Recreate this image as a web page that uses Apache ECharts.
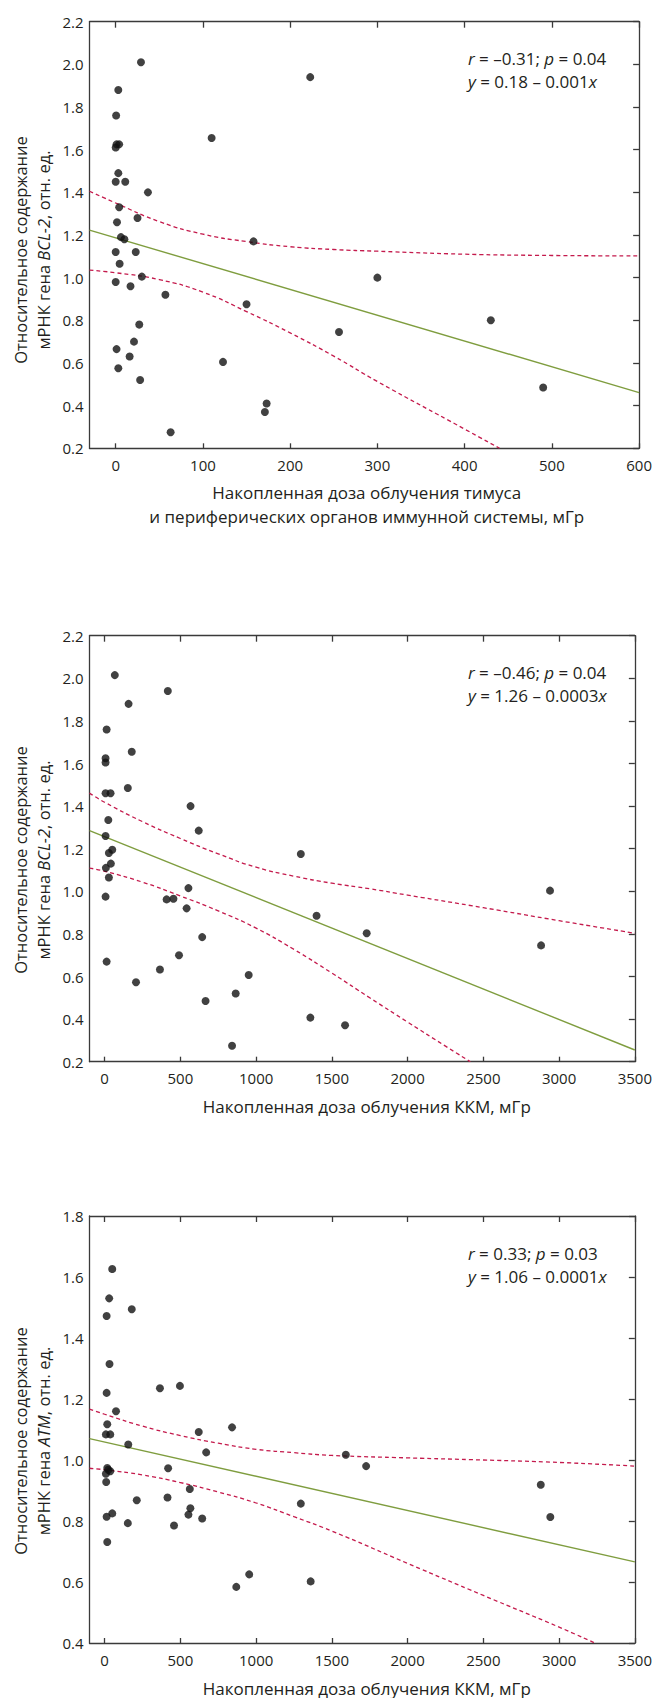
<!DOCTYPE html>
<html>
<head>
<meta charset="utf-8">
<script src="https://cdn.jsdelivr.net/npm/echarts@6/dist/echarts.min.js"></script>
<style>
html,body{margin:0;padding:0;background:#fff;}
#chart{width:655px;height:1698px;}
</style>
</head>
<body>
<div id="chart"></div>
<script>
// ---------- data ----------
// Chart 1: thymus + peripheral immune organs dose (mGy) vs BCL-2
var dose1 = [29, 223, 3, 0.5, 110, 1, 4, 0, 3, 0, 11, 37, 4, 25, 1.5, 6, 10, 158, 0, 23, 4.5, 30, 0, 17, 57, 150, 27, 256, 21, 1, 16, 3, 123, 28, 173, 171, 63, 300, 430, 490];
var bcl1  = [2.01, 1.94, 1.88, 1.76, 1.655, 1.625, 1.625, 1.61, 1.49, 1.45, 1.45, 1.40, 1.33, 1.28, 1.26, 1.19, 1.18, 1.17, 1.12, 1.12, 1.065, 1.005, 0.98, 0.96, 0.92, 0.875, 0.78, 0.745, 0.70, 0.665, 0.63, 0.575, 0.605, 0.52, 0.41, 0.37, 0.275, 1.0, 0.80, 0.485];
var fit1X = [-30, 600];
var fit1Y = [1.223, 0.461];
var up1X  = [-30, 0, 50, 100, 150, 200, 250, 300, 400, 500, 600];
var up1Y  = [1.405, 1.35, 1.263, 1.204, 1.169, 1.145, 1.132, 1.124, 1.110, 1.104, 1.102];
var lo1X  = [-30, 0, 50, 100, 150, 200, 250, 300, 400, 440];
var lo1Y  = [1.035, 1.023, 0.991, 0.932, 0.841, 0.741, 0.632, 0.513, 0.290, 0.2];

// Chart 2: red bone marrow (KKM) dose vs BCL-2
var dose2 = [67, 417, 158, 13, 179, 6, 6, 153, 6, 39, 567, 24, 621, 6, 1295, 28, 50, 41, 8, 28, 553, 6, 409, 454, 541, 1399, 644, 491, 13, 365, 951, 207, 865, 666, 1358, 1587, 841, 1730, 2881, 2940];
var bcl2  = [2.015, 1.94, 1.88, 1.76, 1.655, 1.625, 1.605, 1.485, 1.46, 1.46, 1.40, 1.335, 1.285, 1.26, 1.175, 1.18, 1.195, 1.13, 1.11, 1.065, 1.015, 0.975, 0.962, 0.965, 0.92, 0.885, 0.785, 0.70, 0.67, 0.633, 0.607, 0.573, 0.52, 0.485, 0.407, 0.371, 0.275, 0.803, 0.746, 1.003];
var fit2X = [-100, 3500];
var fit2Y = [1.285, 0.255];
var up2X  = [-100, 0, 250, 500, 750, 1000, 1250, 1500, 1750, 2000, 2500, 3000, 3500];
var up2Y  = [1.461, 1.418, 1.327, 1.248, 1.176, 1.113, 1.071, 1.038, 1.012, 0.982, 0.923, 0.862, 0.803];
var lo2X  = [-100, 0, 250, 500, 750, 1000, 1250, 1500, 1750, 2000, 2250, 2414];
var lo2Y  = [1.109, 1.094, 1.043, 0.978, 0.908, 0.827, 0.727, 0.616, 0.500, 0.386, 0.273, 0.2];

// Chart 3: red bone marrow (KKM) dose vs ATM
var dose3 = [50, 30, 13, 179, 32, 13, 365, 497, 75, 17, 8, 37, 156, 621, 841, 670, 1592, 17, 8, 37, 24, 10, 419, 562, 415, 212, 1295, 566, 553, 13, 50, 644, 153, 458, 17, 954, 869, 1360, 1726, 2879, 2942];
var atm3  = [1.626, 1.53, 1.472, 1.494, 1.315, 1.22, 1.235, 1.243, 1.16, 1.117, 1.084, 1.084, 1.051, 1.092, 1.107, 1.025, 1.017, 0.974, 0.955, 0.963, 0.968, 0.928, 0.973, 0.905, 0.877, 0.868, 0.857, 0.842, 0.821, 0.814, 0.825, 0.808, 0.793, 0.785, 0.731, 0.625, 0.584, 0.602, 0.98, 0.919, 0.813];
var fit3X = [-100, 3500];
var fit3Y = [1.070, 0.666];
var up3X  = [-100, 0, 250, 500, 750, 1000, 1250, 1500, 2000, 2500, 3000, 3500];
var up3Y  = [1.167, 1.150, 1.111, 1.080, 1.055, 1.035, 1.024, 1.015, 1.007, 1.000, 0.992, 0.980];
var lo3X  = [-100, 0, 250, 500, 750, 1000, 1250, 1500, 2000, 2500, 3000, 3236];
var lo3Y  = [0.973, 0.968, 0.951, 0.926, 0.895, 0.859, 0.814, 0.767, 0.661, 0.556, 0.452, 0.4];

// tick labels
var xTicks1 = [0, 100, 200, 300, 400, 500, 600];
var xTicks23 = [0, 500, 1000, 1500, 2000, 2500, 3000, 3500];

// texts
var stats1 = '{i|r} = –0.31; {i|p} = 0.04\n{i|y} = 0.18 – 0.001{i|x}';
var stats2 = '{i|r} = –0.46; {i|p} = 0.04\n{i|y} = 1.26 – 0.0003{i|x}';
var stats3 = '{i|r} = 0.33; {i|p} = 0.03\n{i|y} = 1.06 – 0.0001{i|x}';
var yTitle1 = 'Относительное содержание\nмРНК гена {i|BCL-2}, отн. ед.';
var yTitle2 = 'Относительное содержание\nмРНК гена {i|BCL-2}, отн. ед.';
var yTitle3 = 'Относительное содержание\nмРНК гена {i|ATM}, отн. ед.';
var xTitle1 = 'Накопленная доза облучения тимуса\nи периферических органов иммунной системы, мГр';
var xTitle2 = 'Накопленная доза облучения ККМ, мГр';
var xTitle3 = 'Накопленная доза облучения ККМ, мГр';

// ---------- layout / styles ----------
var FONT = "'Open Sans', sans-serif";
var AXIS = '#3a3a3a';
var TXT = '#231f20';
var DOT = '#111111';
var GREEN = '#7f9d3f';
var RED = '#c41a4c';

function zip(a, b) { var r = []; for (var i = 0; i < a.length; i++) r.push([a[i], b[i]]); return r; }

var panels = [
  {top: 21.7, height: 426.6, xmin: -30, xmax: 600, xt: xTicks1, ymin: 0.2, ymax: 2.2,
   dx: dose1, dy: bcl1, fx: fit1X, fy: fit1Y, ux: up1X, uy: up1Y, lx: lo1X, ly: lo1Y,
   stats: stats1, statsTop: 47, yTitle: yTitle1, yTitleY: 250, xTitle: xTitle1, xTitleY: 504.7},
  {top: 635.7, height: 426, xmin: -100, xmax: 3500, xt: xTicks23, ymin: 0.2, ymax: 2.2,
   dx: dose2, dy: bcl2, fx: fit2X, fy: fit2Y, ux: up2X, uy: up2Y, lx: lo2X, ly: lo2Y,
   stats: stats2, statsTop: 661, yTitle: yTitle2, yTitleY: 860, xTitle: xTitle2, xTitleY: 1106},
  {top: 1216, height: 427, xmin: -100, xmax: 3500, xt: xTicks23, ymin: 0.4, ymax: 1.8,
   dx: dose3, dy: atm3, fx: fit3X, fy: fit3Y, ux: up3X, uy: up3Y, lx: lo3X, ly: lo3Y,
   stats: stats3, statsTop: 1241.5, yTitle: yTitle3, yTitleY: 1441, xTitle: xTitle3, xTitleY: 1688}
];

var LEFT = 89.5, WIDTH = 554.5;
var grid = [], xAxis = [], yAxis = [], series = [], title = [], graphic = [];
var axisLineStyle = {color: AXIS, width: 1.3};

panels.forEach(function (p, i) {
  grid.push({left: LEFT, top: p.top, width: WIDTH, height: p.height});
  xAxis.push({
    gridIndex: i, type: 'value', min: p.xmin, max: p.xmax, position: 'bottom',
    axisLine: {show: true, onZero: false, lineStyle: axisLineStyle},
    axisTick: {show: true, inside: true, length: 5, lineStyle: axisLineStyle, customValues: p.xt},
    axisLabel: {show: true, customValues: p.xt, margin: 9, color: TXT, fontSize: 15, fontFamily: FONT,
      formatter: function (v) { return String(v); }},
    splitLine: {show: false}
  });
  xAxis.push({
    gridIndex: i, type: 'value', min: p.xmin, max: p.xmax, position: 'top',
    axisLine: {show: true, onZero: false, lineStyle: axisLineStyle},
    axisTick: {show: true, inside: true, length: 6, lineStyle: axisLineStyle, customValues: p.xt},
    axisLabel: {show: false},
    splitLine: {show: false}
  });
  yAxis.push({
    gridIndex: i, type: 'value', min: p.ymin, max: p.ymax, interval: 0.2, position: 'left',
    axisLine: {show: true, onZero: false, lineStyle: axisLineStyle},
    axisTick: {show: false},
    axisLabel: {show: true, margin: 6, color: TXT, fontSize: 15, fontFamily: FONT,
      formatter: function (v) { return v.toFixed(1); }},
    splitLine: {show: false}
  });
  yAxis.push({
    gridIndex: i, type: 'value', min: p.ymin, max: p.ymax, interval: 0.2, position: 'right',
    axisLine: {show: true, onZero: false, lineStyle: axisLineStyle},
    axisTick: {show: true, inside: true, length: 6, lineStyle: axisLineStyle},
    axisLabel: {show: false},
    splitLine: {show: false}
  });
  var xi = 2 * i, yi = 2 * i;
  series.push({
    type: 'line', xAxisIndex: xi, yAxisIndex: yi, data: zip(p.fx, p.fy),
    showSymbol: false, symbol: 'none', lineStyle: {color: GREEN, width: 1.4}, z: 2, silent: true
  });
  series.push({
    type: 'line', xAxisIndex: xi, yAxisIndex: yi, data: zip(p.ux, p.uy), smooth: 0.5,
    showSymbol: false, symbol: 'none', lineStyle: {color: RED, width: 1.3, type: [4, 3]}, z: 2, silent: true
  });
  series.push({
    type: 'line', xAxisIndex: xi, yAxisIndex: yi, data: zip(p.lx, p.ly), smooth: 0.5,
    showSymbol: false, symbol: 'none', lineStyle: {color: RED, width: 1.3, type: [4, 3]}, z: 2, silent: true
  });
  series.push({
    type: 'scatter', xAxisIndex: xi, yAxisIndex: yi, data: zip(p.dx, p.dy),
    symbol: 'circle', symbolSize: 8, itemStyle: {color: DOT}, z: 5, silent: true
  });
  title.push({
    text: p.stats, left: 468, top: p.statsTop, padding: 0,
    textStyle: {fontFamily: FONT, fontSize: 17, fontWeight: 'normal', color: TXT, lineHeight: 23,
      rich: {i: {fontFamily: FONT, fontSize: 17, fontStyle: 'italic', color: TXT, lineHeight: 23}}}
  });
  graphic.push({
    type: 'text', x: 31.5, y: p.yTitleY, rotation: Math.PI / 2,
    style: {text: p.yTitle, fontFamily: FONT, fontSize: 16.5, fill: TXT, align: 'center', verticalAlign: 'middle', lineHeight: 23,
      rich: {i: {fontFamily: FONT, fontSize: 16.5, fontStyle: 'italic', fill: TXT, lineHeight: 23}}}
  });
  graphic.push({
    type: 'text', x: LEFT + WIDTH / 2, y: p.xTitleY,
    style: {text: p.xTitle, fontFamily: FONT, fontSize: 17, fill: TXT, align: 'center', verticalAlign: 'middle', lineHeight: 24}
  });
});

var chart = echarts.init(document.getElementById('chart'), null, {renderer: 'svg'});
chart.setOption({
  animation: false,
  backgroundColor: '#ffffff',
  grid: grid, xAxis: xAxis, yAxis: yAxis, series: series, title: title, graphic: graphic
});
</script>
</body>
</html>
